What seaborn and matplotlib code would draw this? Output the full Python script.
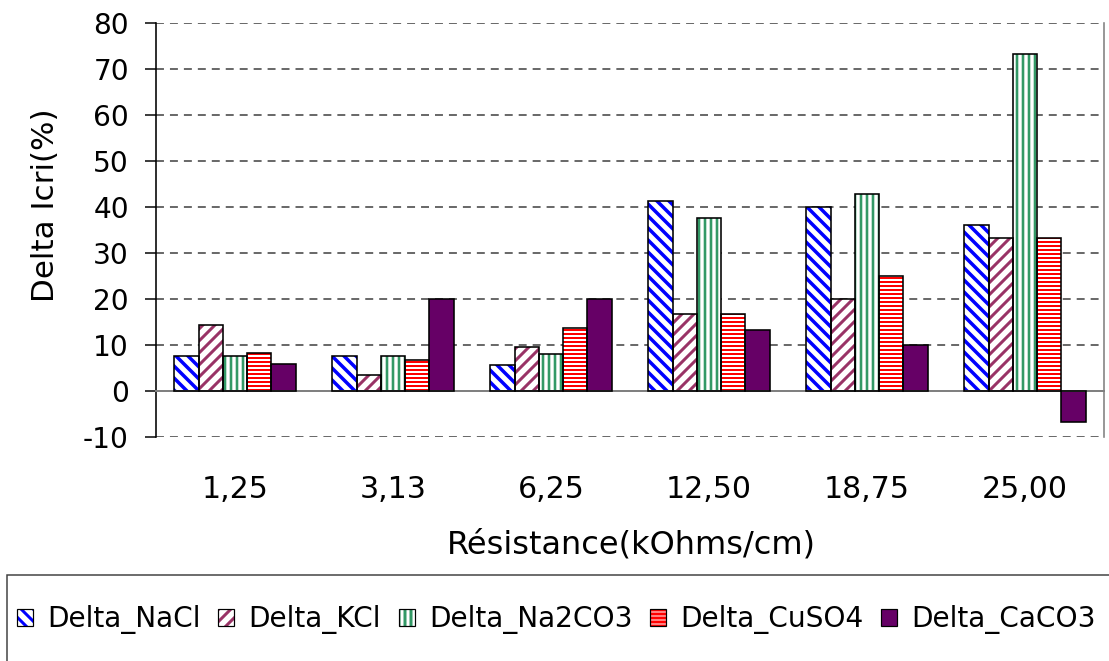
import pandas as pd
import matplotlib.pyplot as plt
import seaborn as sns
from matplotlib.patches import Patch, Rectangle
from matplotlib.legend_handler import HandlerTuple
from matplotlib.ticker import MultipleLocator

# --- data ---
resistances = ['1,25', '3,13', '6,25', '12,50', '18,75', '25,00']
solutions = ['Delta_NaCl', 'Delta_KCl', 'Delta_Na2CO3', 'Delta_CuSO4', 'Delta_CaCO3']
delta_nacl = [7.7, 7.7, 5.6, 41.2, 40.0, 36.0]
delta_kcl = [14.3, 3.4, 9.5, 16.7, 20.0, 33.3]
delta_na2co3 = [7.7, 7.7, 8.0, 37.5, 42.9, 73.3]
delta_cuso4 = [8.3, 6.7, 13.6, 16.7, 25.0, 33.3]
delta_caco3 = [5.9, 20.0, 20.0, 13.3, 10.0, -6.7]

colors = ['#0000FF', '#993366', '#339966', '#FF0000', '#660066']
hatches = ['\\\\', '//', '||', '---', '']
hatch_lw = [3.5, 3.0, 2.6, 2.0, 1.0]

series = [delta_nacl, delta_kcl, delta_na2co3, delta_cuso4, delta_caco3]
df = pd.DataFrame({
    'Resistance': resistances * len(solutions),
    'Solution': [s for s in solutions for _ in resistances],
    'Delta': [v for vals in series for v in vals],
})

sns.set_style('white')
plt.rcParams['font.family'] = ['DejaVu Sans']
plt.rcParams['axes.unicode_minus'] = False
plt.rcParams['hatch.linewidth'] = 3.0
plt.rcParams['text.color'] = 'black'
plt.rcParams['axes.labelcolor'] = 'black'
plt.rcParams['xtick.color'] = 'black'
plt.rcParams['ytick.color'] = 'black'

fig = plt.figure(figsize=(1109 / 72, 661 / 72), dpi=72)
ax = fig.add_axes([156 / 1109, 224 / 661, 948 / 1109, 414 / 661])

sns.barplot(data=df, x='Resistance', y='Delta', hue='Solution', order=resistances,
            hue_order=solutions, palette=colors, width=0.77, errorbar=None,
            legend=False, ax=ax)

# hatch fill + black outline for every bar
for cont, col, h, hlw in zip(ax.containers, colors, hatches, hatch_lw):
    for bar in cont:
        if h:
            bar.set_facecolor('white')
            bar.set_edgecolor(col)
            bar.set_hatch(h)
            bar.set_linewidth(0)
            if hasattr(bar, 'set_hatch_linewidth'):
                bar.set_hatch_linewidth(hlw)
        else:
            bar.set_facecolor(col)
            bar.set_linewidth(0)
        ax.add_patch(Rectangle(bar.get_xy(), bar.get_width(), bar.get_height(),
                               fill=False, edgecolor='black', linewidth=1.6, zorder=3))

ax.set_ylim(-10, 80)
ax.set_xlim(-0.5, 5.5)
ax.yaxis.set_major_locator(MultipleLocator(10))
ax.set_axisbelow(True)
ax.yaxis.grid(True, color='#3a3a3a', linestyle=(0, (5.3, 4)), linewidth=1.5)

# spines
ax.spines['top'].set_visible(False)
ax.spines['left'].set_color('black')
ax.spines['left'].set_linewidth(1.6)
ax.spines['right'].set_color('#808080')
ax.spines['right'].set_linewidth(1.6)
ax.spines['bottom'].set_position(('data', 0))
ax.spines['bottom'].set_color('#808080')
ax.spines['bottom'].set_linewidth(2)

# x ticks: labels at category centres, small tick marks at the category borders
ax.xaxis.set_minor_locator(MultipleLocator(1, offset=0.5))
ax.tick_params(axis='x', which='major', length=0, pad=84, labelsize=30, labelcolor='black')
ax.tick_params(axis='x', which='minor', length=10, width=1.5, color='#808080', direction='out')
ax.tick_params(axis='y', which='major', length=11, width=1.5, color='black',
               direction='out', pad=16, labelsize=28, left=True, labelcolor='black')

ax.set_xlabel('Résistance(kOhms/cm)', fontsize=32, va='center')
ax.xaxis.set_label_coords(0.501, -0.261)
ax.set_ylabel('Delta Icri(%)', fontsize=31, va='center')
ax.yaxis.set_label_coords(-0.117, 0.56)

# legend below the chart
handles = []
for col, h in zip(colors, hatches):
    if h:
        inner = Patch(facecolor='white', edgecolor=col, hatch=h, linewidth=0)
    else:
        inner = Patch(facecolor=col, linewidth=0)
    handles.append((inner, Patch(fill=False, edgecolor='black', linewidth=1.2)))

fig.legend(handles, solutions, loc='center left', bbox_to_anchor=(7 / 1109, 1 - 620 / 661),
           ncol=5, frameon=False, fontsize=28, handlelength=0.57, handleheight=0.57,
           handletextpad=0.5, columnspacing=0.64, borderpad=0.36, borderaxespad=0,
           handler_map={tuple: HandlerTuple(ndivide=1)})
fig.patches.append(Rectangle((7 / 1109, -0.02), 1.1, (661 - 575) / 661 + 0.02,
                             transform=fig.transFigure, fill=False,
                             edgecolor='#404040', linewidth=1.5))

fig.savefig('out.png', dpi=72)
print("Saved out.png")
